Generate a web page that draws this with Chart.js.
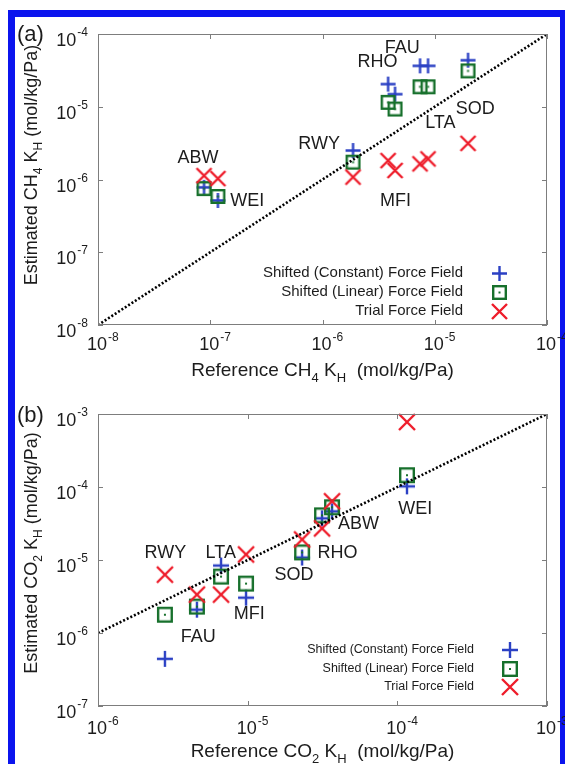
<!DOCTYPE html>
<html>
<head>
<meta charset="utf-8">
<script src="https://cdn.jsdelivr.net/npm/chart.js@4.4.1/dist/chart.umd.min.js"></script>
<style>
  html, body { margin: 0; padding: 0; background: #fff; }
  body { width: 565px; height: 764px; position: relative; overflow: hidden; }
  #frame { position: absolute; left: 8px; top: 10px; width: 545px; height: 760px;
           border: 7px solid #0b14ee; border-bottom: none; }
  canvas { position: absolute; left: 0; }
  #chartA { top: 0; }
  #chartB { top: 390px; }
</style>
</head>
<body>
<div id="frame"></div>
<canvas id="chartA" width="565" height="390"></canvas>
<canvas id="chartB" width="565" height="374"></canvas>
<script>
// ---- data: Henry coefficients (mol/kg/Pa) ----
const seriesNames = ['Shifted (Constant) Force Field', 'Shifted (Linear) Force Field', 'Trial Force Field'];

// (a) CH4
const zeolitesCH4 = ['ABW', 'WEI', 'RWY', 'RHO', 'MFI', 'LTA', 'FAU', 'SOD'];
const refCH4    = [8.8e-8, 1.17e-7, 1.87e-6, 3.84e-6, 4.43e-6, 7.39e-6, 8.71e-6, 1.98e-5];
const constCH4  = [7.8e-7, 5.15e-7, 2.5e-6, 2.05e-5, 1.49e-5, 3.65e-5, 3.65e-5, 4.36e-5];
const linearCH4 = [7.5e-7, 5.85e-7, 1.73e-6, 1.15e-5, 9.3e-6, 1.88e-5, 1.88e-5, 3.11e-5];
const trialCH4  = [1.13e-6, 1.03e-6, 1.08e-6, 1.82e-6, 1.33e-6, 1.64e-6, 1.92e-6, 3.14e-6];

// (b) CO2
const zeolitesCO2 = ['RWY', 'FAU', 'LTA', 'MFI', 'SOD', 'RHO', 'ABW', 'WEI'];
const refCO2    = [2.8e-6, 4.58e-6, 6.64e-6, 9.75e-6, 2.31e-5, 3.14e-5, 3.66e-5, 1.16e-4];
const constCO2  = [4.43e-7, 2.09e-6, 8.4e-6, 3.05e-6, 1.08e-5, 3.72e-5, 4.64e-5, 1.02e-4];
const linearCO2 = [1.78e-6, 2.3e-6, 5.93e-6, 4.75e-6, 1.27e-5, 4.09e-5, 5.27e-5, 1.45e-4];
const trialCO2  = [6.3e-6, 3.36e-6, 3.36e-6, 1.19e-5, 1.91e-5, 2.71e-5, 6.37e-5, 7.76e-4];

// axis decades (exponents)
const decadesCH4 = [-8, -7, -6, -5, -4];
const decadesCO2x = [-6, -5, -4, -3];
const decadesCO2y = [-7, -6, -5, -4, -3];

// parity line y = x
const parityCH4 = [1e-8, 1e-4];
const parityCO2 = [1e-6, 1e-3];

// where the zeolite names sit, as log10(x), log10(y)
const tagsCH4 = [['ABW', -7.11, -5.70], ['WEI', -6.67, -6.29], ['RWY', -6.03, -5.51], ['RHO', -5.51, -4.39],
                 ['FAU', -5.29, -4.19], ['SOD', -4.64, -5.03], ['LTA', -4.95, -5.23], ['MFI', -5.35, -6.29]];
const tagsCO2 = [['RWY', -5.55, -4.90], ['LTA', -5.18, -4.90], ['FAU', -5.33, -6.05], ['MFI', -4.99, -5.74],
                 ['SOD', -4.69, -5.20], ['RHO', -4.40, -4.90], ['ABW', -4.26, -4.51], ['WEI', -3.88, -4.30]];

const FONT = '"Liberation Sans", Arial, Helvetica, sans-serif';
const INK = '#1c1c1c';
const BLUE = '#2b40c4', GREEN = '#17702c', RED = '#ee1c2a';

// marker sprites
function makeMarker(kind, size, color) {
  const s = size + 4;
  const c = document.createElement('canvas');
  c.width = s; c.height = s;
  const g = c.getContext('2d');
  const m = s / 2, h = size / 2;
  g.strokeStyle = color; g.fillStyle = color; g.lineWidth = 2.4;
  g.beginPath();
  if (kind === 'plus') {
    g.moveTo(m - h, m); g.lineTo(m + h, m);
    g.moveTo(m, m - h); g.lineTo(m, m + h);
    g.stroke();
  } else if (kind === 'x') {
    g.moveTo(m - h, m - h); g.lineTo(m + h, m + h);
    g.moveTo(m + h, m - h); g.lineTo(m - h, m + h);
    g.stroke();
  } else {
    g.strokeRect(m - h + 1.2, m - h + 1.2, size - 2.4, size - 2.4);
    g.fillRect(m - 1, m - 1, 2, 2);
  }
  return c;
}

function pairs(xs, ys) {
  return xs.map((x, i) => ({ x: x, y: ys[i] }));
}

// text with sub/superscript pieces: [text, 0 normal | 1 sub | 2 sup]
function richWidth(ctx, parts, size) {
  const small = Math.round(size * 0.68);
  return parts.reduce((w, [t, k]) => {
    ctx.font = (k ? small : size) + 'px ' + FONT;
    return w + ctx.measureText(t).width;
  }, 0);
}
function richText(ctx, parts, x, y, size) {
  const small = Math.round(size * 0.68);
  let cx = x;
  parts.forEach(([t, k]) => {
    ctx.font = (k ? small : size) + 'px ' + FONT;
    const dy = k === 1 ? size * 0.3 : k === 2 ? -size * 0.45 : 0;
    ctx.fillText(t, cx, y + dy);
    cx += ctx.measureText(t).width;
  });
}

// frame, inward ticks, power-of-ten labels, titles, legend and zeolite names
const decor = {
  id: 'decor',
  afterDatasetsDraw(chart, args, o) {
    const ctx = chart.ctx, a = chart.chartArea;
    const xs = chart.scales.x, ys = chart.scales.y;
    ctx.save();
    ctx.textAlign = 'left';
    ctx.textBaseline = 'alphabetic';

    ctx.strokeStyle = '#7d7d7d';
    ctx.lineWidth = 1;
    ctx.strokeRect(a.left + 0.5, a.top + 0.5, a.right - a.left - 1, a.bottom - a.top - 1);
    ctx.beginPath();
    o.xDecades.forEach(e => {
      const px = Math.round(xs.getPixelForValue(Math.pow(10, e))) + 0.5;
      ctx.moveTo(px, a.bottom); ctx.lineTo(px, a.bottom - 5);
      ctx.moveTo(px, a.top); ctx.lineTo(px, a.top + 5);
    });
    o.yDecades.forEach(e => {
      const py = Math.round(ys.getPixelForValue(Math.pow(10, e))) + 0.5;
      ctx.moveTo(a.left, py); ctx.lineTo(a.left + 5, py);
      ctx.moveTo(a.right, py); ctx.lineTo(a.right - 5, py);
    });
    ctx.stroke();

    ctx.fillStyle = INK;
    const fs = o.tickSize, sup = Math.round(fs * 0.66);
    o.xDecades.forEach(e => {
      const px = xs.getPixelForValue(Math.pow(10, e));
      ctx.font = fs + 'px ' + FONT;
      const w10 = ctx.measureText('10').width;
      ctx.fillText('10', px - w10 / 2 - 1, a.bottom + o.xTickGap);
      ctx.font = sup + 'px ' + FONT;
      ctx.fillText(String(e), px + w10 / 2, a.bottom + o.xTickGap - 9);
    });
    o.yDecades.forEach(e => {
      const py = ys.getPixelForValue(Math.pow(10, e));
      ctx.font = sup + 'px ' + FONT;
      const ws = ctx.measureText(String(e)).width;
      ctx.fillText(String(e), a.left - 10 - ws, py + 2);
      ctx.font = fs + 'px ' + FONT;
      const w10 = ctx.measureText('10').width;
      ctx.fillText('10', a.left - 11 - ws - w10, py + 12);
    });

    // axis titles
    const tw = richWidth(ctx, o.xTitle, o.titleSize);
    richText(ctx, o.xTitle, (a.left + a.right) / 2 - tw / 2, a.bottom + o.xTitleGap, o.titleSize);
    ctx.save();
    ctx.translate(o.yTitleX, o.yTitleY);
    ctx.rotate(-Math.PI / 2);
    const th = richWidth(ctx, o.yTitle, o.titleSize - 1);
    richText(ctx, o.yTitle, -th / 2, 0, o.titleSize - 1);
    ctx.restore();

    // panel tag
    ctx.font = '22px ' + FONT;
    ctx.fillText(o.tag, 17, o.tagY);

    // zeolite names
    ctx.font = '18px ' + FONT;
    ctx.textAlign = 'center';
    ctx.textBaseline = 'middle';
    o.tags.forEach(([name, lx, ly]) => {
      ctx.fillText(name, xs.getPixelForValue(Math.pow(10, lx)), ys.getPixelForValue(Math.pow(10, ly)));
    });

    // legend
    const L = o.legend;
    ctx.font = L.size + 'px ' + FONT;
    ctx.textAlign = 'right';
    chart.data.datasets.filter(d => d.inLegend).forEach((d, i) => {
      const y = L.ys[i];
      ctx.fillText(d.label, L.right, y);
      const img = d.pointStyle;
      ctx.drawImage(img, Math.round(L.x - img.width / 2), Math.round(y - img.height / 2));
    });
    ctx.restore();
  }
};

function panel(id, cfg) {
  const plus = makeMarker('plus', cfg.mark, BLUE);
  const box = makeMarker('box', cfg.mark, GREEN);
  const cross = makeMarker('x', cfg.mark, RED);
  const common = { pointRadius: 7, pointHoverRadius: 7, clip: false, showLine: false };
  return new Chart(document.getElementById(id), {
    type: 'scatter',
    data: {
      datasets: [
        { label: 'parity', data: pairs(cfg.parity, cfg.parity), showLine: true, pointRadius: 0,
          borderColor: '#000', borderWidth: 2.6, borderDash: [2, 2], order: 0 },
        Object.assign({ label: seriesNames[0], data: pairs(cfg.ref, cfg.constant), pointStyle: plus, inLegend: true, order: 3 }, common),
        Object.assign({ label: seriesNames[1], data: pairs(cfg.ref, cfg.linear), pointStyle: box, inLegend: true, order: 2 }, common),
        Object.assign({ label: seriesNames[2], data: pairs(cfg.ref, cfg.trial), pointStyle: cross, inLegend: true, order: 1 }, common)
      ]
    },
    options: {
      responsive: false,
      animation: false,
      events: [],
      layout: { padding: cfg.padding },
      scales: {
        x: { type: 'logarithmic', min: cfg.xRange[0], max: cfg.xRange[1], display: false },
        y: { type: 'logarithmic', min: cfg.yRange[0], max: cfg.yRange[1], display: false }
      },
      plugins: {
        legend: { display: false },
        tooltip: { enabled: false },
        decor: cfg.decor
      }
    },
    plugins: [decor]
  });
}

panel('chartA', {
  ref: refCH4, constant: constCH4, linear: linearCH4, trial: trialCH4,
  parity: parityCH4, xRange: [1e-8, 1e-4], yRange: [1e-8, 1e-4], mark: 15,
  padding: { left: 98, right: 18, top: 34, bottom: 65 },
  decor: {
    xDecades: decadesCH4, yDecades: decadesCH4, tickSize: 18, xTickGap: 25,
    titleSize: 19, xTitleGap: 51,
    xTitle: [['Reference CH', 0], ['4', 1], [' K', 0], ['H', 1], ['  (mol/kg/Pa)', 0]],
    yTitle: [['Estimated CH', 0], ['4', 1], [' K', 0], ['H', 1], [' (mol/kg/Pa)', 0]],
    yTitleX: 37, yTitleY: 165,
    tag: '(a)', tagY: 41,
    tags: tagsCH4,
    legend: { size: 15, right: 463, x: 499, ys: [273, 292, 311] }
  }
});

panel('chartB', {
  ref: refCO2, constant: constCO2, linear: linearCO2, trial: trialCO2,
  parity: parityCO2, xRange: [1e-6, 1e-3], yRange: [1e-7, 1e-3], mark: 16,
  padding: { left: 98, right: 18, top: 24, bottom: 58 },
  decor: {
    xDecades: decadesCO2x, yDecades: decadesCO2y, tickSize: 18, xTickGap: 28,
    titleSize: 19, xTitleGap: 51,
    xTitle: [['Reference CO', 0], ['2', 1], [' K', 0], ['H', 1], ['  (mol/kg/Pa)', 0]],
    yTitle: [['Estimated CO', 0], ['2', 1], [' K', 0], ['H', 1], [' (mol/kg/Pa)', 0]],
    yTitleX: 37, yTitleY: 163,
    tag: '(b)', tagY: 32,
    tags: tagsCO2,
    legend: { size: 12.5, right: 474, x: 510, ys: [260, 279, 297] }
  }
});
</script>
</body>
</html>
